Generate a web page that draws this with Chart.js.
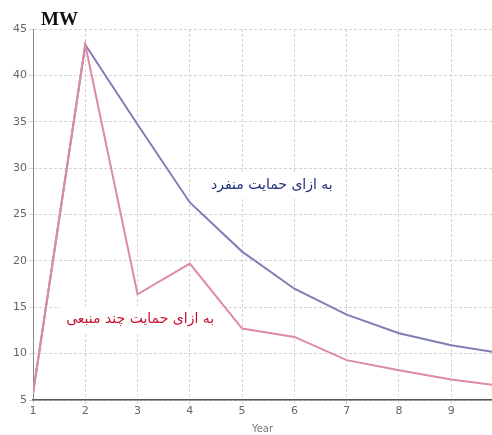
<!DOCTYPE html>
<html>
<head>
<meta charset="utf-8">
<script src="https://cdn.jsdelivr.net/npm/chart.js@4/dist/chart.umd.min.js"></script>
<style>
  html, body { margin: 0; padding: 0; background: #fff; }
  #wrap { width: 492px; height: 435px; }
</style>
</head>
<body>
<div id="wrap"><canvas id="chart"></canvas></div>
<script>
const years = [1, 2, 3, 4, 5, 6, 7, 8, 9, 10];
const single = [5.7, 43.3, 34.7, 26.3, 21.0, 17.0, 14.2, 12.2, 10.9, 10.0];
const multi = [5.7, 43.3, 16.4, 19.7, 12.7, 11.8, 9.3, 8.2, 7.2, 6.5];
const yTicks = [5, 10, 15, 20, 25, 30, 35, 40, 45];
const xTicks = [1, 2, 3, 4, 5, 6, 7, 8, 9];

const labelSingle = 'به ازای حمایت منفرد';
const labelMulti = 'به ازای حمایت چند منبعی';

function toPoints(ys) {
    return years.map(function (x, i) { return { x: x, y: ys[i] }; });
}

const textPlugin = {
    id: 'texts',
    afterDatasetsDraw: function (chart) {
        const ctx = chart.ctx;
        const xs = chart.scales.x, ys = chart.scales.y;
        const notes = [
            { text: labelSingle, x: 5.57, y: 28.1, color: '#1d2f7a' },
            { text: labelMulti, x: 3.05, y: 13.7, color: '#c8102e' }
        ];
        ctx.save();
        ctx.font = '14px "DejaVu Sans", sans-serif';
        ctx.textAlign = 'center';
        ctx.textBaseline = 'middle';
        notes.forEach(function (n) {
            const px = xs.getPixelForValue(n.x);
            const py = ys.getPixelForValue(n.y);
            const w = ctx.measureText(n.text).width;
            ctx.fillStyle = '#fff';
            ctx.fillRect(px - w / 2 - 6, py - 13, w + 12, 26);
            ctx.fillStyle = n.color;
            ctx.fillText(n.text, px, py);
        });
        ctx.font = 'bold 19px "Liberation Serif", serif';
        ctx.fillStyle = '#111';
        ctx.textAlign = 'left';
        ctx.textBaseline = 'alphabetic';
        ctx.fillText('MW', 41, 25);
        ctx.restore();
    }
};

new Chart(document.getElementById('chart'), {
    type: 'line',
    data: {
        datasets: [
            {
                label: 'multi',
                data: toPoints(multi),
                borderColor: '#dc8ba2',
                borderWidth: 2,
                pointRadius: 0,
                tension: 0
            },
            {
                label: 'single',
                data: toPoints(single),
                borderColor: '#7f7fb8',
                borderWidth: 2,
                pointRadius: 0,
                tension: 0
            }
        ]
    },
    options: {
        responsive: true,
        maintainAspectRatio: false,
        animation: false,
        layout: { padding: { top: 29, right: 0, left: 0, bottom: 0 } },
        plugins: { legend: { display: false }, tooltip: { enabled: false } },
        scales: {
            x: {
                type: 'linear',
                min: 1,
                max: 9.78,
                afterBuildTicks: function (s) { s.ticks = xTicks.map(function (v) { return { value: v }; }); },
                afterFit: function (s) { s.height = 35; },
                ticks: { color: '#666', font: { size: 11, family: 'DejaVu Sans' }, padding: 1, maxRotation: 0 },
                grid: { color: '#d4d4d4', tickLength: 4, drawTicks: true },
                border: { color: '#555', width: 1.5, dash: [3, 2] },
                title: { display: true, text: 'Year', color: '#777', font: { size: 10, family: 'DejaVu Sans' }, padding: { top: 0, bottom: 0 } }
            },
            y: {
                min: 5,
                max: 45,
                afterBuildTicks: function (s) { s.ticks = yTicks.map(function (v) { return { value: v }; }); },
                afterFit: function (s) { s.width = 33; },
                ticks: { color: '#666', font: { size: 11, family: 'DejaVu Sans' }, padding: 2 },
                grid: { color: '#d4d4d4', tickLength: 4 },
                border: { color: '#888', width: 1, dash: [3, 2] }
            }
        }
    },
    plugins: [textPlugin]
});
</script>
</body>
</html>
